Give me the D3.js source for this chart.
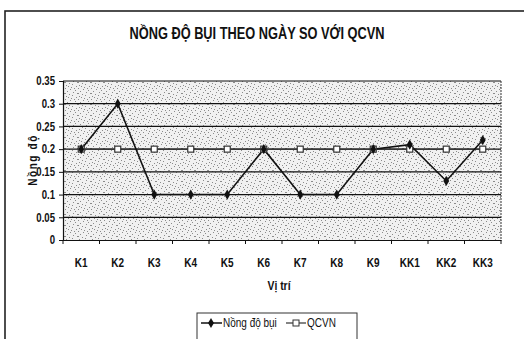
<!DOCTYPE html>
<html><head><meta charset="utf-8">
<script src="https://cdn.jsdelivr.net/npm/d3@7"></script>
<style>body{margin:0;background:#fff}svg{display:block}</style>
</head><body>
<svg id="c" width="524" height="339"></svg>
<script>
const categories = ["K1","K2","K3","K4","K5","K6","K7","K8","K9","KK1","KK2","KK3"];
const dustValues = [0.2,0.3,0.1,0.1,0.1,0.2,0.1,0.1,0.2,0.21,0.13,0.22];
const qcvnValues = [0.2,0.2,0.2,0.2,0.2,0.2,0.2,0.2,0.2,0.2,0.2,0.2];
const yTicks = [0,0.05,0.1,0.15,0.2,0.25,0.3,0.35];
const seriesNames = ["Nồng độ bụi","QCVN"];
const titleText = "NỒNG ĐỘ BỤI THEO NGÀY SO VỚI QCVN";
const xTitle = "Vị trí", yTitle = "Nồng độ";

const FONT = "'Liberation Sans Narrow','Arial Narrow','Liberation Sans',Arial,sans-serif";
const SX = 0.8;
const svg = d3.select("#c");
const L = 63, R = 501, T = 81, B = 240;

// condensed text helper
function ctext(parent, x0, y0, str, opts) {
  const g = parent.append("g").attr("transform", `translate(${x0},${y0})${opts.rot?` rotate(${opts.rot})`:""} scale(${SX},1)`);
  return g.append("text").attr("text-anchor", opts.anchor || "start")
    .attr("font-family", FONT).attr("font-size", opts.size || 12)
    .attr("font-weight", opts.weight || "normal").attr("fill", "#111")
    .attr("letter-spacing", opts.ls || 0).text(str);
}

// stipple pattern
const defs = svg.append("defs");
const pat = defs.append("pattern").attr("id","stip").attr("patternUnits","userSpaceOnUse")
  .attr("width",13).attr("height",11);
pat.append("rect").attr("width",13).attr("height",11).attr("fill","#f1f1f1");
[[0,0],[5,1],[10,2],[2,3],[8,4],[12,5],[4,6],[1,8],[7,7],[11,9],[6,10],[3,9],[9,0],[0,5]].forEach(([x,y])=>{
  pat.append("rect").attr("x",x).attr("y",y).attr("width",1).attr("height",1).attr("fill","#8c8c8c");
});

// outer frame
svg.append("rect").attr("x",5).attr("y",11).attr("width",530).attr("height",340)
  .attr("fill","none").attr("stroke","#222").attr("stroke-width",1.6);

const x = d3.scaleBand().domain(categories).range([L,R]);
const y = d3.scaleLinear().domain([0,0.35]).range([B,T]);

svg.append("rect").attr("x",L).attr("y",T).attr("width",R-L).attr("height",B-T).attr("fill","url(#stip)");

// gridlines
svg.append("g").selectAll("line").data(yTicks.filter(d=>d>0)).join("line")
  .attr("x1",L).attr("x2",R).attr("y1",d=>y(d)).attr("y2",d=>y(d))
  .attr("stroke","#111").attr("stroke-width",1.2);
svg.append("line").attr("x1",R).attr("x2",R).attr("y1",T).attr("y2",B)
  .attr("stroke","#333").attr("stroke-dasharray","2,1");

// y axis
const ya = svg.append("g").attr("transform",`translate(${L},0)`)
  .call(d3.axisLeft(y).tickValues(yTicks).tickFormat(d=>d===0?"0":String(+d.toFixed(2))).tickSize(4).tickPadding(3));
ya.select(".domain").attr("stroke","#111").attr("stroke-width",1.2);
ya.selectAll("line").attr("stroke","#111");
ya.selectAll("text").attr("font-family",FONT).attr("font-size",12).attr("font-weight","bold").attr("fill","#111")
  .attr("transform",`scale(${SX},1)`).attr("x",-8/SX);

// x axis
const xa = svg.append("g").attr("transform",`translate(0,${B})`)
  .call(d3.axisBottom(x).tickSize(0).tickPadding(18));
xa.select(".domain").attr("stroke","#111").attr("stroke-width",1.2);
xa.selectAll("text").attr("font-family",FONT).attr("font-size",12.5).attr("font-weight","bold").attr("fill","#111")
  .attr("transform",`scale(${SX},1)`);
svg.append("g").selectAll("line").data(d3.range(categories.length+1)).join("line")
  .attr("x1",i=>L+i*x.bandwidth()).attr("x2",i=>L+i*x.bandwidth())
  .attr("y1",B).attr("y2",B+4).attr("stroke","#111");

// lines
const cx = (d,i)=>x(categories[i])+x.bandwidth()/2;
svg.append("path").datum(qcvnValues)
  .attr("d",d3.line().x(cx).y(d=>y(d)))
  .attr("fill","none").attr("stroke","#333").attr("stroke-width",1.2);
svg.append("path").datum(dustValues)
  .attr("d",d3.line().x(cx).y(d=>y(d)))
  .attr("fill","none").attr("stroke","#111").attr("stroke-width",1.6);
svg.append("g").selectAll("rect").data(qcvnValues).join("rect")
  .attr("x",(d,i)=>cx(d,i)-3).attr("y",d=>y(d)-3).attr("width",6).attr("height",6)
  .attr("fill","#fff").attr("stroke","#333").attr("stroke-width",1.2);
const diamond = d3.symbol().type(d3.symbolDiamond).size(30);
svg.append("g").selectAll("path").data(dustValues).join("path")
  .attr("d",diamond).attr("transform",(d,i)=>`translate(${cx(d,i)},${y(d)})`).attr("fill","#111");

// titles
ctext(svg, 257, 39, titleText, {anchor:"middle", size:16, weight:"bold"});
ctext(svg, 279, 290, xTitle, {anchor:"middle", size:13, weight:"bold"});
ctext(svg, 37, 160, yTitle, {anchor:"middle", size:12.5, weight:"bold", rot:-90, ls:2});

// legend
const lg = svg.append("g");
lg.append("rect").attr("x",197).attr("y",313).attr("width",160).attr("height",40)
  .attr("fill","#fff").attr("stroke","#333").attr("stroke-width",1);
lg.append("line").attr("x1",201).attr("x2",222).attr("y1",323).attr("y2",323).attr("stroke","#111").attr("stroke-width",1.5);
lg.append("path").attr("d",diamond).attr("transform","translate(211,323)").attr("fill","#111");
ctext(lg, 223, 327, seriesNames[0], {size:12.5});
lg.append("line").attr("x1",286).attr("x2",306).attr("y1",323).attr("y2",323).attr("stroke","#333").attr("stroke-width",1.2);
lg.append("rect").attr("x",293).attr("y",320).attr("width",6).attr("height",6).attr("fill","#fff").attr("stroke","#333");
ctext(lg, 307, 327, seriesNames[1], {size:12.5});
</script>
</body></html>
